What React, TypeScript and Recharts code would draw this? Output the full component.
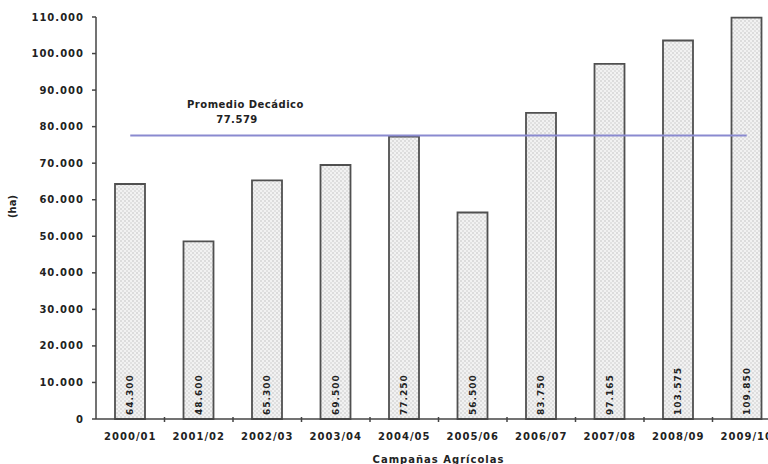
import { ComposedChart, Bar, Line, XAxis, YAxis, LabelList } from 'recharts';

const campaigns = ['2000/01', '2001/02', '2002/03', '2003/04', '2004/05', '2005/06', '2006/07', '2007/08', '2008/09', '2009/10'];
const hectares = [64300, 48600, 65300, 69500, 77250, 56500, 83750, 97165, 103575, 109850];
const average = 77579;
const yTicks = [0, 10000, 20000, 30000, 40000, 50000, 60000, 70000, 80000, 90000, 100000, 110000];

const fmt = (v: number) => {
  const s = Math.round(v).toString();
  return s.replace(/\B(?=(\d{3})+(?!\d))/g, '.');
};

const data = campaigns.map((c, i) => ({ name: c, ha: hectares[i], avg: average }));

const FONT = '"DejaVu Sans", Verdana, sans-serif';
const BAND = 68.5;

function XTick(props: any) {
  const { x, y, payload } = props;
  return (
    <g>
      <line x1={x + BAND / 2} x2={x + BAND / 2} y1={y - 10} y2={y - 5} stroke="#444" strokeWidth={1.5} />
      <text x={x} y={y + 13} textAnchor="middle" fontSize={10} fontWeight={700} fill="#222" fontFamily={FONT} letterSpacing={1}>
        {payload.value}
      </text>
    </g>
  );
}

function BarValue(props: any) {
  const { x, y, width, height, value } = props;
  const cx = x + width / 2 + 3;
  const by = y + height - 4;
  return (
    <text x={cx} y={by} transform={`rotate(-90 ${cx} ${by})`} fontSize={9} fontWeight={700} fill="#222" fontFamily={FONT} letterSpacing={1}>
      {fmt(value)}
    </text>
  );
}

export default function App() {
  return (
    <div style={{ position: 'absolute', left: 0, top: 0, width: 768, height: 464, overflow: 'hidden', background: '#fff', fontFamily: FONT }}>
      <svg width={0} height={0} style={{ position: 'absolute' }}>
        <defs>
          <pattern id="dots" width="4" height="4" patternUnits="userSpaceOnUse">
            <rect width="4" height="4" fill="#f2f2f2" />
            <circle cx="1" cy="1" r="0.7" fill="#b5b5b5" />
            <circle cx="3" cy="3" r="0.7" fill="#c5c5c5" />
          </pattern>
        </defs>
      </svg>
      <ComposedChart width={790} height={464} data={data} margin={{ top: 17, right: 9, left: 0, bottom: 0 }} barCategoryGap={0}>
        <XAxis
          dataKey="name"
          height={45}
          tick={<XTick />}
          tickLine={false}
          axisLine={{ stroke: '#444', strokeWidth: 1.5 }}
          interval={0}
          label={{ value: 'Campañas Agrícolas', position: 'insideBottom', offset: 1, fontSize: 10, fontWeight: 700, fill: '#222', fontFamily: FONT, letterSpacing: 1 } as any}
        />
        <YAxis
          width={96}
          domain={[0, 110000]}
          ticks={yTicks}
          interval={0}
          tickFormatter={fmt}
          tick={{ fontSize: 10, fontWeight: 700, fill: '#222', fontFamily: FONT, letterSpacing: 1 } as any}
          tickSize={4}
          tickMargin={8}
          tickLine={{ stroke: '#444', strokeWidth: 1.5 }}
          axisLine={{ stroke: '#444', strokeWidth: 1.5 }}
          label={{ value: '(ha)', angle: -90, position: 'insideLeft', offset: 12, fontSize: 10, fontWeight: 700, fill: '#222', fontFamily: FONT } as any}
        />
        <Bar dataKey="ha" barSize={30} fill="url(#dots)" stroke="#505050" strokeWidth={1.8} isAnimationActive={false}>
          <LabelList dataKey="ha" content={<BarValue />} />
        </Bar>
        <Line dataKey="avg" stroke="#8a8ad0" strokeWidth={2} dot={false} activeDot={false} isAnimationActive={false} />
      </ComposedChart>
      <div style={{ position: 'absolute', left: 187, top: 97, width: 100, textAlign: 'center', fontSize: 10, fontWeight: 700, color: '#222', lineHeight: '15px', letterSpacing: 0.5 }}>
        <div style={{ whiteSpace: 'nowrap' }}>Promedio Decádico</div>
        <div>{fmt(average)}</div>
      </div>
    </div>
  );
}
